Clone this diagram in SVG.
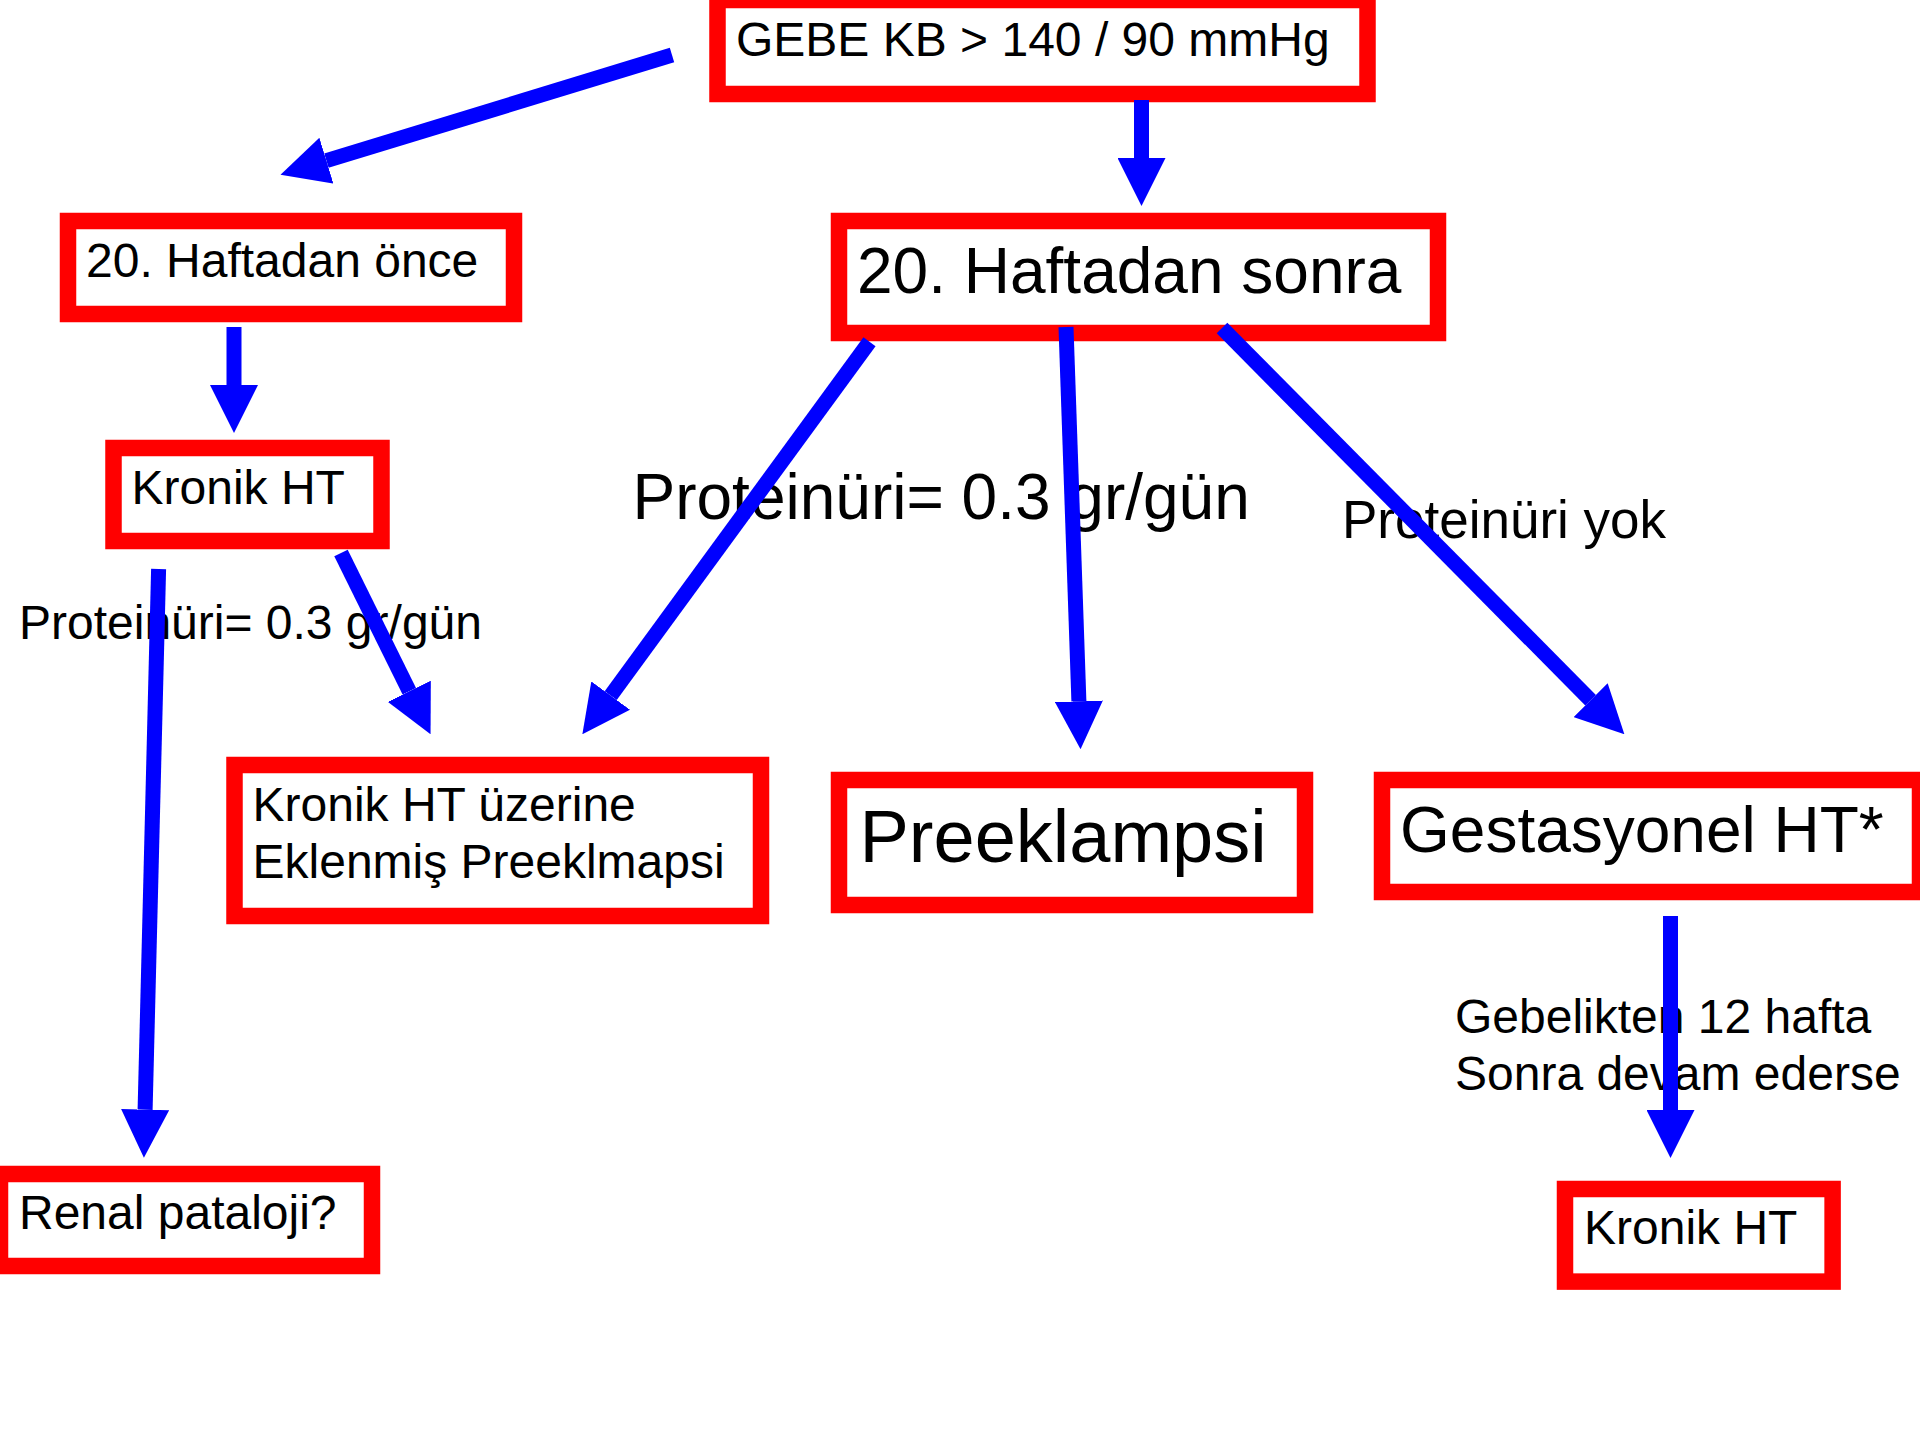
<svg xmlns="http://www.w3.org/2000/svg" width="1920" height="1440" viewBox="0 0 1920 1440">
<style>
.box{fill:#fff;stroke:#ff0000;stroke-width:16.5}
.t{font-family:"Liberation Sans",Arial,sans-serif;fill:#000}
.c{stroke:#0000ff;stroke-width:15;fill:none;marker-end:url(#ah)}
</style>
<defs>
<marker id="ah" markerUnits="userSpaceOnUse" markerWidth="48" markerHeight="48" refX="0" refY="24" orient="auto" viewBox="0 0 48 48">
<path d="M0,0 L48,24 L0,48 Z" fill="#0000ff"/>
</marker>
</defs>
<rect width="1920" height="1440" fill="#fff"/>
<g id="n-gebe">
<rect class="box" x="717.5" y="0" width="650" height="94"/>
<text class="t" x="736" y="56" font-size="48">GEBE KB &gt; 140 / 90 mmHg</text>
</g>
<g id="n-once">
<rect class="box" x="68" y="221" width="446" height="93"/>
<text class="t" x="86" y="277" font-size="48">20. Haftadan önce</text>
</g>
<g id="n-sonra">
<rect class="box" x="839" y="221" width="599" height="112"/>
<text class="t" x="857" y="293" font-size="64">20. Haftadan sonra</text>
</g>
<g id="n-kronik1">
<rect class="box" x="113.5" y="448" width="268" height="93"/>
<text class="t" x="131.5" y="504" font-size="48">Kronik HT</text>
</g>
<g id="n-uzerine">
<rect class="box" x="234.5" y="765" width="526.5" height="151"/>
<text class="t" x="252.5" y="821" font-size="48">Kronik HT üzerine</text>
<text class="t" x="252.5" y="877.7" font-size="48">Eklenmiş Preeklmapsi</text>
</g>
<g id="n-preeklampsi">
<rect class="box" x="839" y="780" width="466" height="125"/>
<text class="t" x="859.5" y="862" font-size="74">Preeklampsi</text>
</g>
<g id="n-gestasyonel">
<rect class="box" x="1382" y="780" width="538" height="112"/>
<text class="t" x="1400" y="852" font-size="64">Gestasyonel HT*</text>
</g>
<g id="n-renal">
<rect class="box" x="0" y="1174" width="372" height="92"/>
<text class="t" x="19" y="1229" font-size="48">Renal pataloji?</text>
</g>
<g id="n-kronik2">
<rect class="box" x="1565" y="1189" width="267.6" height="92.6"/>
<text class="t" x="1584" y="1244" font-size="48">Kronik HT</text>
</g>
<g id="labels">
<text class="t" x="19" y="639" font-size="48">Proteinüri= 0.3 gr/gün</text>
<text class="t" x="632.5" y="519" font-size="64">Proteinüri= 0.3 gr/gün</text>
<text class="t" x="1342" y="538" font-size="53">Proteinüri yok</text>
<text class="t" x="1455" y="1033" font-size="48">Gebelikten 12 hafta</text>
<text class="t" x="1455" y="1090" font-size="48">Sonra devam ederse</text>
</g>
<g id="connectors">
<line class="c" x1="672" y1="55" x2="326.4" y2="160.7"/>
<line class="c" x1="1141.5" y1="100" x2="1141.5" y2="158"/>
<line class="c" x1="234" y1="327" x2="234" y2="385"/>
<line class="c" x1="869.5" y1="341.7" x2="610.7" y2="695.6"/>
<line class="c" x1="1066" y1="327" x2="1078.9" y2="701.3"/>
<line class="c" x1="1222" y1="328" x2="1590.6" y2="700.2"/>
<line class="c" x1="341" y1="553" x2="409.3" y2="691.3"/>
<line class="c" x1="158.6" y1="569" x2="145.1" y2="1109.7"/>
<line class="c" x1="1670.5" y1="916" x2="1670.5" y2="1110"/>
</g>
</svg>
